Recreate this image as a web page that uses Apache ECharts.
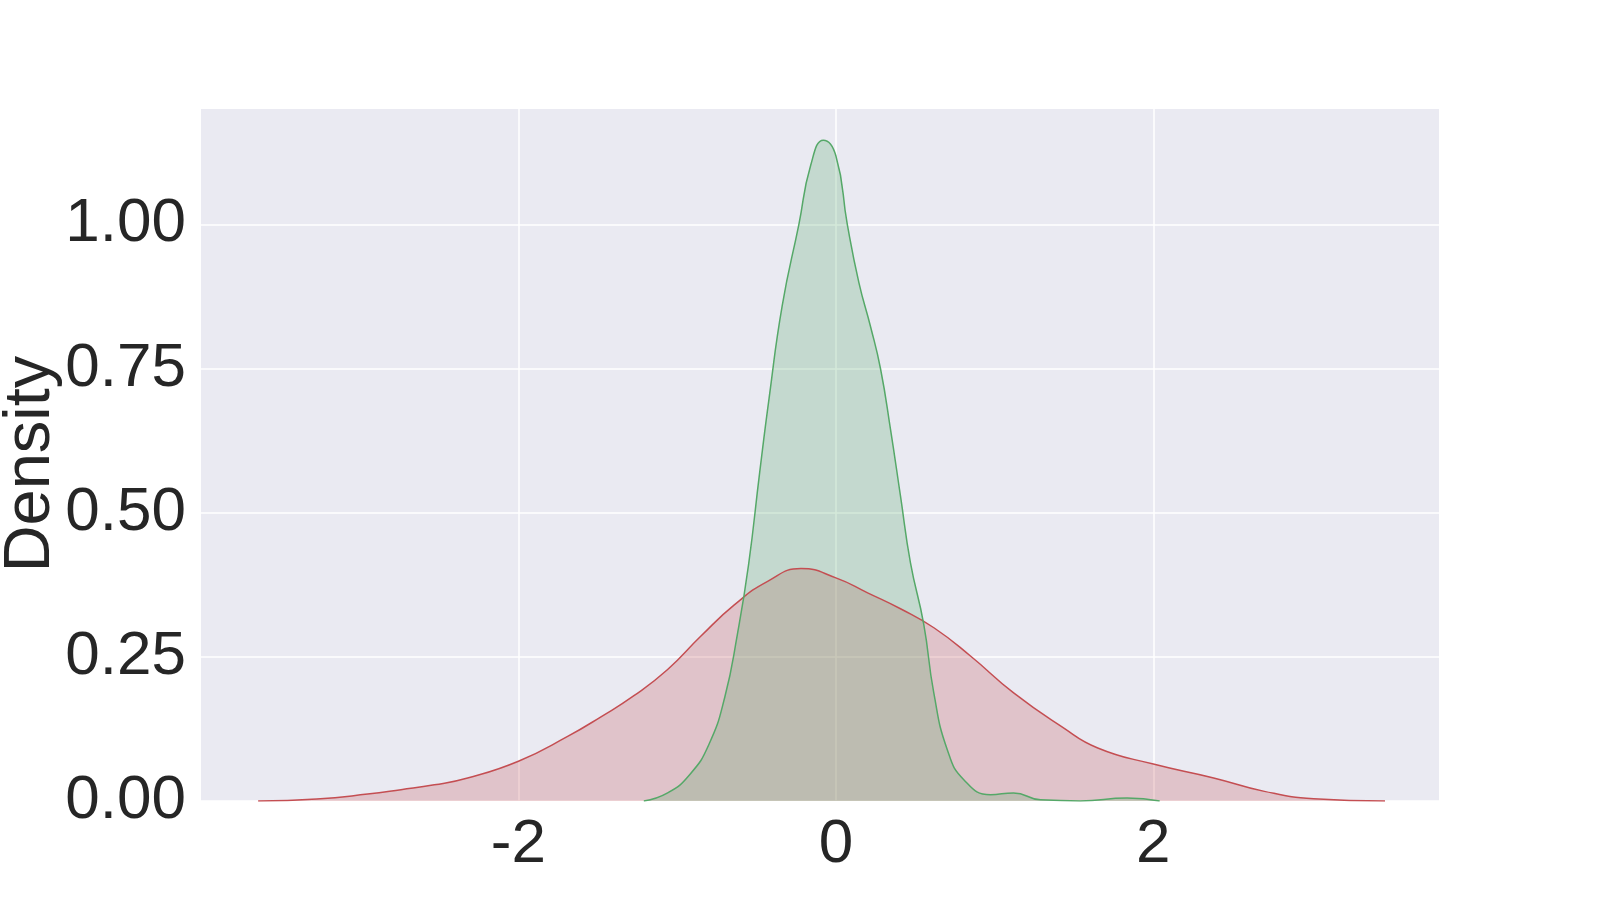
<!DOCTYPE html>
<html>
<head>
<meta charset="utf-8">
<script src="https://cdn.jsdelivr.net/npm/echarts@6/dist/echarts.min.js"></script>
<style>
  html, body { margin: 0; padding: 0; background: #fff; }
  #chart { width: 1600px; height: 900px; }
</style>
</head>
<body>
<div id="chart"></div>
<script>
// density curves
const redX = [-3.64, -3.27, -2.95, -2.74, -2.53, -2.32, -2.0, -1.69, -1.48, -1.27, -1.06, -0.85, -0.64, -0.43, -0.22, 0.0, 0.2, 0.41, 0.62, 0.85, 1.12, 1.42, 1.65, 2.0, 2.38, 2.7, 3.01, 3.46];
const redY = [0.0, 0.0035, 0.012, 0.0196, 0.028, 0.040, 0.069, 0.112, 0.146, 0.183, 0.228, 0.286, 0.340, 0.381, 0.403, 0.387, 0.361, 0.333, 0.300, 0.251, 0.1875, 0.1295, 0.092, 0.064, 0.040, 0.0167, 0.004, 0.0];

const greenX = [-1.21, -1.06, -0.92, -0.8, -0.7, -0.62, -0.55, -0.48, -0.42, -0.338, -0.233, -0.159, -0.079, 0.0, 0.072, 0.145, 0.219, 0.281, 0.344, 0.407, 0.47, 0.554, 0.617, 0.702, 0.806, 0.974, 1.119, 1.289, 1.54, 1.835, 2.04];
const greenY = [0.0, 0.014, 0.046, 0.098, 0.18, 0.29, 0.41, 0.57, 0.70, 0.859, 1.0, 1.102, 1.146, 1.119, 1.0, 0.899, 0.822, 0.75, 0.645, 0.529, 0.413, 0.306, 0.1875, 0.089, 0.037, 0.011, 0.014, 0.002, 0.0, 0.005, 0.0];

const xTicks = [-2, 0, 2];
const yTicks = [0, 0.25, 0.5, 0.75, 1.0];

const chart = echarts.init(document.getElementById("chart"));

function pairs(xs, ys) {
    return xs.map((x, i) => [x, ys[i]]);
}

const labelFont = "'Liberation Sans', Arial, sans-serif";

chart.setOption({
    animation: false,
    grid: {
        left: 201,
        right: 161,
        top: 109,
        bottom: 99,
        outerBoundsMode: "none",
        containLabel: false,
        show: true,
        backgroundColor: "#eaeaf2",
        borderWidth: 0,
    },
    xAxis: {
        type: "value",
        min: -4,
        max: 3.8,
        axisLine: { show: false },
        axisTick: { show: false, customValues: xTicks },
        axisLabel: {
            customValues: xTicks,
            margin: 13,
            fontSize: 62,
            fontFamily: labelFont,
            color: "#262626",
        },
        splitLine: { show: true, lineStyle: { color: "#ffffff", width: 1.5 } },
    },
    yAxis: {
        type: "value",
        min: 0,
        max: 1.2,
        name: "Density",
        nameLocation: "middle",
        nameGap: 137,
        nameMoveOverlap: false,
        nameTextStyle: {
            fontSize: 65,
            fontFamily: labelFont,
            color: "#262626",
            padding: [0, 18, 0, 0],
        },
        axisLine: { show: false },
        axisTick: { show: false, customValues: yTicks },
        axisLabel: {
            customValues: yTicks,
            margin: 15,
            fontSize: 62,
            fontFamily: labelFont,
            color: "#262626",
            formatter: (v) => v.toFixed(2),
        },
        splitLine: { show: true, lineStyle: { color: "#ffffff", width: 1.5 } },
    },
    series: [
        {
            type: "line",
            data: pairs(redX, redY),
            smooth: 0.5,
            symbol: "none",
            lineStyle: { color: "#c44e52", width: 1.5 },
            areaStyle: { color: "#c44e52", opacity: 0.25 },
        },
        {
            type: "line",
            data: pairs(greenX, greenY),
            smooth: 0.5,
            symbol: "none",
            lineStyle: { color: "#55a868", width: 1.5 },
            areaStyle: { color: "#55a868", opacity: 0.25 },
        },
    ],
});
</script>
</body>
</html>
